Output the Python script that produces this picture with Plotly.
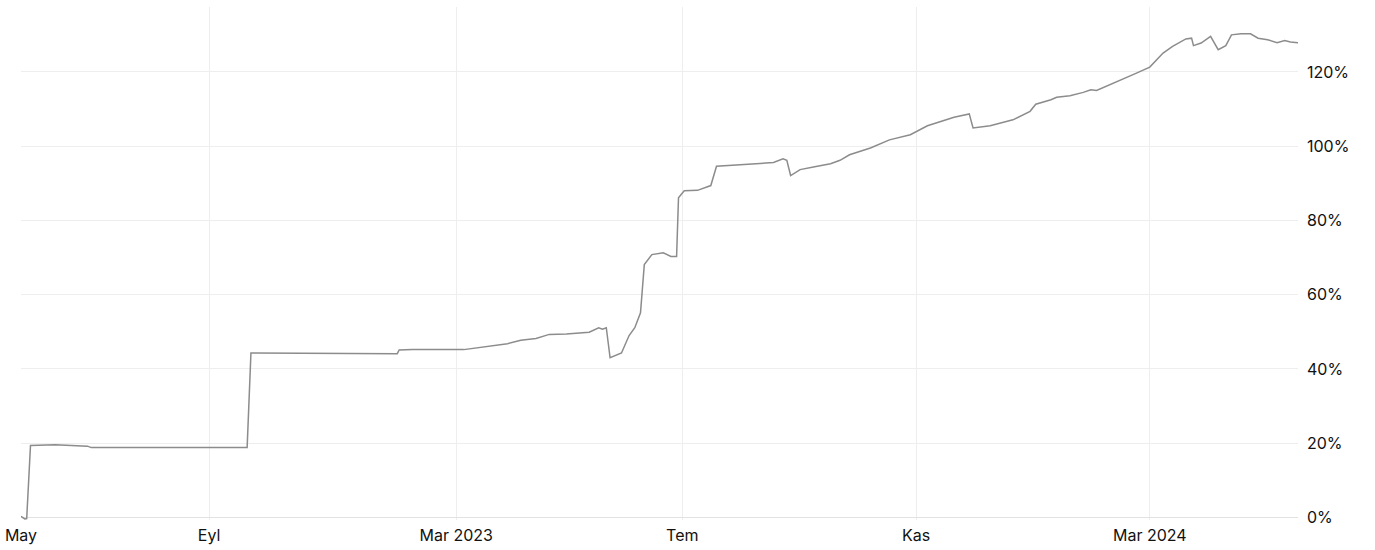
import plotly.graph_objects as go

# Data point order (sequence number of each observation on the x axis)
gun_sirasi = [0, 2, 3, 5, 18, 35, 37, 119, 121, 198, 199, 206, 233, 256, 263, 271,
              278, 287, 299, 304, 306, 308, 310, 316, 320, 323, 326, 327, 328, 332,
              338, 342, 345, 346, 349, 356, 363, 366, 382, 396, 401, 403, 405, 410,
              417, 426, 431, 436, 447, 457, 468, 477, 491, 499, 501, 510, 522, 531,
              534, 536, 542, 545, 552, 559, 563, 566, 573, 578, 582, 587, 594, 601,
              606, 613, 616, 617, 621, 626, 630, 634, 637, 642, 647, 651, 656, 661,
              665, 668, 672]

# Cumulative return (%)
getiri = [0.3, -0.4, -0.3, 19.4, 19.6, 19.2, 18.8, 18.8, 44.3, 44.1, 45.1, 45.2,
          45.2, 46.8, 47.7, 48.2, 49.3, 49.4, 49.9, 51.1, 50.7, 51.1, 43.0, 44.3,
          49.0, 51.1, 55.1, 63.2, 68.1, 70.8, 71.3, 70.3, 70.3, 86.1, 88.0, 88.1,
          89.4, 94.6, 95.2, 95.6, 96.6, 96.2, 92.1, 93.7, 94.4, 95.3, 96.2, 97.7,
          99.5, 101.7, 103.1, 105.5, 107.8, 108.7, 104.9, 105.5, 107.1, 109.4,
          111.3, 111.6, 112.5, 113.2, 113.6, 114.5, 115.2, 115.0, 116.5, 117.7,
          118.6, 119.7, 121.3, 125.1, 126.9, 128.9, 129.1, 127.1, 127.8, 129.6,
          126.0, 127.1, 130.0, 130.3, 130.3, 129.1, 128.7, 127.9, 128.5, 128.1,
          127.9]

# Month ticks
ay_sirasi = [0, 99, 229, 348, 471, 594]
ay_etiketleri = ["May", "Eyl", "Mar 2023", "Tem", "Kas", "Mar 2024"]

y_ticks = [0, 20, 40, 60, 80, 100, 120]

fig = go.Figure()
fig.add_trace(go.Scatter(
    x=gun_sirasi, y=getiri, mode="lines",
    line=dict(color="#8c8c8c", width=1.5),
    hoverinfo="skip", showlegend=False,
))

fig.update_layout(
    width=1375, height=550,
    margin=dict(l=21, r=77, t=7, b=30, autoexpand=False),
    paper_bgcolor="white", plot_bgcolor="white",
    font=dict(family="Inter, Roboto, sans-serif", size=16, color="#111111"),
)
fig.update_xaxes(
    range=[0, 672], tickmode="array", tickvals=ay_sirasi, ticktext=ay_etiketleri,
    showgrid=True, gridcolor="#eeeeee", gridwidth=1, zeroline=False,
    showline=False, ticks="", ticklabelstandoff=4, automargin=False,
)
fig.update_yaxes(
    range=[-0.7, 137.5], side="right", tickmode="array", tickvals=y_ticks,
    ticktext=[f"{v}%" for v in y_ticks],
    showgrid=True, gridcolor="#eeeeee", gridwidth=1,
    zeroline=True, zerolinecolor="#e2e2e2", zerolinewidth=1,
    showline=False, ticks="", ticklabelstandoff=8, automargin=False,
)

fig.write_html("out.html", config={"displayModeBar": False},
               post_script="document.body.style.margin='0px';")
